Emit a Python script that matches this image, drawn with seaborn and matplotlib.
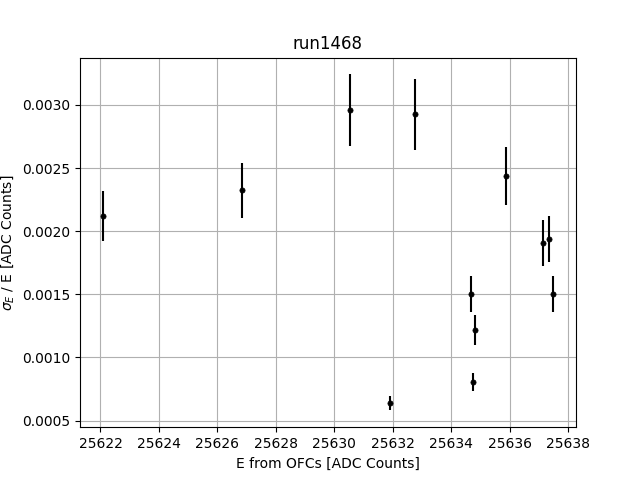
import matplotlib
matplotlib.use("Agg")
import matplotlib.pyplot as plt
import seaborn as sns
import pandas as pd

energy = [25622.09, 25626.83, 25630.53, 25632.76, 25631.92, 25635.87,
          25637.13, 25637.33, 25637.48, 25634.67, 25634.81, 25634.76]
resolution = [0.002119, 0.002325, 0.002958, 0.002926, 0.000640, 0.002436,
              0.001906, 0.001940, 0.001502, 0.001502, 0.001217, 0.000806]
resolution_err = [0.000199, 0.000219, 0.000284, 0.000280, 0.000059, 0.000232,
                  0.000180, 0.000183, 0.000144, 0.000141, 0.000117, 0.000074]
x_ticks = [25622, 25624, 25626, 25628, 25630, 25632, 25634, 25636, 25638]

df = pd.DataFrame({"E": energy, "res": resolution, "err": resolution_err})

fig, ax = plt.subplots(figsize=(6.4, 4.8), dpi=100)
ax.errorbar(df["E"], df["res"], yerr=df["err"], fmt="none", ecolor="k",
            elinewidth=1.5, zorder=2)
sns.scatterplot(data=df, x="E", y="res", ax=ax, marker="o", s=14,
                color="k", edgecolor="k", linewidth=0.5, zorder=3, legend=False)
ax.set_xticks(x_ticks)
ax.set_xticklabels([str(t) for t in x_ticks])
ax.grid(True)
ax.set_axisbelow(True)
ax.set_title("run1468")
ax.set_xlabel("E from OFCs [ADC Counts]")
ax.set_ylabel(r"$\sigma_E$ / E [ADC Counts]")
ax.set_xlim(25621.3, 25638.27)
ax.set_ylim(0.000448, 0.003375)
fig.savefig("out.png", dpi=100)
